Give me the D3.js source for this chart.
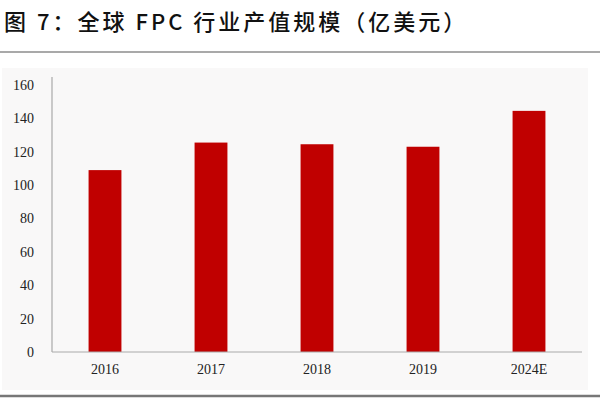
<!DOCTYPE html>
<html lang="zh">
<head>
<meta charset="UTF-8">
<script src="https://d3js.org/d3.v7.min.js"></script>
<style>
  body { margin: 0; background: #fff; }
  .tick text { font-family: "Liberation Serif", serif; font-size: 14px; fill: #222; }
</style>
</head>
<body>
<svg width="600" height="400"></svg>
<script>
var years = ["2016", "2017", "2018", "2019", "2024E"];
var values = [109, 125.5, 124.5, 123, 144.5];
var yTicks = [0, 20, 40, 60, 80, 100, 120, 140, 160];

var svg = d3.select("svg");

svg.append("text")
    .attr("x", 4).attr("y", 30)
    .attr("font-family", "Noto Sans CJK SC")
    .attr("font-weight", 500)
    .attr("font-size", 22)
    .attr("letter-spacing", 3)
    .attr("fill", "#111")
    .text("图 7：全球 FPC 行业产值规模（亿美元）");

svg.append("line").attr("x1", 0).attr("x2", 600).attr("y1", 52).attr("y2", 52)
    .attr("stroke", "#555").attr("stroke-width", 1.2);
svg.append("line").attr("x1", 0).attr("x2", 600).attr("y1", 396).attr("y2", 396)
    .attr("stroke", "#777").attr("stroke-width", 2.5);

// panel background
svg.append("rect").attr("x", 2).attr("y", 68).attr("width", 586).attr("height", 322)
    .attr("fill", "#f9f8f8");

var x = d3.scaleBand().domain(years).range([52, 582]).paddingInner(0.69).paddingOuter(0.345);
var y = d3.scaleLinear().domain([0, 160]).range([352, 85]);

var g = svg.append("g");

g.selectAll(".bar")
    .data(values)
    .enter().append("rect")
    .attr("class", "bar")
    .attr("x", (d, i) => x(years[i]))
    .attr("y", d => y(d))
    .attr("width", x.bandwidth())
    .attr("height", d => y(0) - y(d))
    .attr("fill", "#c00000");

var yAxis = g.append("g")
    .attr("transform", "translate(52,0)")
    .call(d3.axisLeft(y).tickValues(yTicks).tickSize(0).tickPadding(18));
yAxis.select(".domain").attr("stroke", "#999").attr("d", "M0,77V352");

var xAxis = g.append("g")
    .attr("transform", "translate(0,352)")
    .call(d3.axisBottom(x).tickSize(0).tickPadding(12));
xAxis.select(".domain").attr("stroke", "#aaa").attr("d", "M52,0H582");
</script>
</body>
</html>
